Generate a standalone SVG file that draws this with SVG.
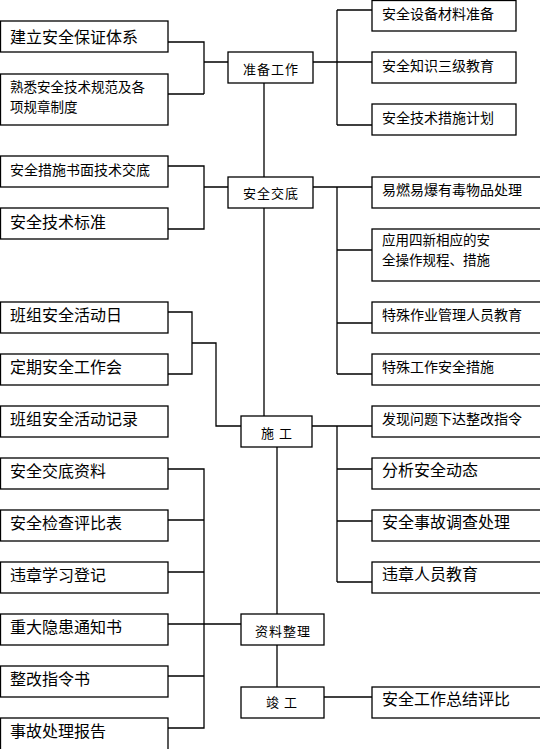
<svg xmlns="http://www.w3.org/2000/svg" width="540" height="749" viewBox="0 0 540 749">
<style>
rect{fill:#fff;stroke:#000;stroke-width:1.3}
.c{fill:none;stroke:#000;stroke-width:1.3}
text{font-family:"Noto Sans CJK SC","Liberation Sans",sans-serif;fill:#000}
.t16{font-size:16px}
.t14{font-size:14px}
.t2{font-size:13.5px}
.m{font-size:13px;text-anchor:middle;letter-spacing:1px}
</style>
<rect x="0" y="0" width="540" height="749" style="fill:#fff;stroke:none"/>
<g id="connectors">
<path class="c" d="M168,42H204V94M168,94H204M204,62H228"/>
<path class="c" d="M313,62H337M337,10V125M337,10H372M337,62H372M337,125H372"/>
<path class="c" d="M264,83V177M264,208V416"/>
<path class="c" d="M168,166H204V229H168M204,187H228"/>
<path class="c" d="M313,187H337V374M337,187H372M337,250H372M337,323H372M337,374H372"/>
<path class="c" d="M168,312H192V374H168M192,343H216V426H241"/>
<path class="c" d="M312,426H337V582M337,426H372M337,469H372M337,521H372M337,582H372"/>
<path class="c" d="M277,447V614M277,645V687"/>
<path class="c" d="M168,469H204V728H168M168,520H204M168,572H204M168,624H241M168,676H204"/>
<path class="c" d="M324,697H372"/>
</g>
<g id="n-zhunbei"><rect x="228" y="52" width="85" height="31"/><text class="m" x="271" y="74">准备工作</text></g>
<g id="n-jiaodi"><rect x="228" y="177" width="85" height="31"/><text class="m" x="271" y="198">安全交底</text></g>
<g id="n-shigong"><rect x="241" y="416" width="71" height="31"/><text class="m" x="277" y="438">施 工</text></g>
<g id="n-ziliao"><rect x="241" y="614" width="83" height="31"/><text class="m" x="283" y="636">资料整理</text></g>
<g id="n-jungong"><rect x="241" y="687" width="83" height="31"/><text class="m" x="282" y="707">竣 工</text></g>

<g id="l1"><rect x="0.5" y="21" width="167.5" height="31"/><text class="t16" x="10" y="43">建立安全保证体系</text></g>
<g id="l2"><rect x="0.5" y="74" width="167.5" height="51"/><text class="t2" x="10" y="92">熟悉安全技术规范及各</text><text class="t2" x="10" y="112">项规章制度</text></g>
<g id="l3"><rect x="0.5" y="156" width="167.5" height="31"/><text class="t14" x="10" y="175">安全措施书面技术交底</text></g>
<g id="l4"><rect x="0.5" y="208" width="167.5" height="31"/><text class="t16" x="10" y="228">安全技术标准</text></g>
<g id="l5"><rect x="0.5" y="302" width="167.5" height="31"/><text class="t16" x="10" y="321">班组安全活动日</text></g>
<g id="l6"><rect x="0.5" y="354" width="167.5" height="31"/><text class="t16" x="10" y="373">定期安全工作会</text></g>
<g id="l7"><rect x="0.5" y="406" width="167.5" height="31"/><text class="t16" x="10" y="425">班组安全活动记录</text></g>
<g id="l8"><rect x="0.5" y="458" width="167.5" height="31"/><text class="t16" x="10" y="477">安全交底资料</text></g>
<g id="l9"><rect x="0.5" y="510" width="167.5" height="31"/><text class="t16" x="10" y="529">安全检查评比表</text></g>
<g id="l10"><rect x="0.5" y="562" width="167.5" height="31"/><text class="t16" x="10" y="581">违章学习登记</text></g>
<g id="l11"><rect x="0.5" y="614" width="167.5" height="31"/><text class="t16" x="10" y="633">重大隐患通知书</text></g>
<g id="l12"><rect x="0.5" y="666" width="167.5" height="31"/><text class="t16" x="10" y="685">整改指令书</text></g>
<g id="l13"><rect x="0.5" y="718" width="167.5" height="40"/><text class="t16" x="10" y="737">事故处理报告</text></g>

<g id="r1"><rect x="372" y="0.5" width="144" height="30.5"/><text class="t14" x="382" y="19">安全设备材料准备</text></g>
<g id="r2"><rect x="372" y="52" width="144" height="31"/><text class="t14" x="382" y="71">安全知识三级教育</text></g>
<g id="r3"><rect x="372" y="104" width="144" height="31"/><text class="t14" x="382" y="123">安全技术措施计划</text></g>
<g id="r4"><rect x="372" y="177" width="175" height="31"/><text class="t14" x="382" y="195">易燃易爆有毒物品处理</text></g>
<g id="r5"><rect x="372" y="229" width="175" height="52"/><text class="t2" x="382" y="245">应用四新相应的安</text><text class="t2" x="382" y="265">全操作规程、措施</text></g>
<g id="r6"><rect x="372" y="302" width="175" height="31"/><text class="t14" x="382" y="320">特殊作业管理人员教育</text></g>
<g id="r7"><rect x="372" y="354" width="175" height="31"/><text class="t14" x="382" y="372">特殊工作安全措施</text></g>
<g id="r8"><rect x="372" y="406" width="175" height="31"/><text class="t14" x="382" y="424">发现问题下达整改指令</text></g>
<g id="r9"><rect x="372" y="458" width="175" height="31"/><text class="t16" x="382" y="476">分析安全动态</text></g>
<g id="r10"><rect x="372" y="510" width="175" height="31"/><text class="t16" x="382" y="528">安全事故调查处理</text></g>
<g id="r11"><rect x="372" y="562" width="175" height="31"/><text class="t16" x="382" y="580">违章人员教育</text></g>
<g id="r12"><rect x="372" y="687" width="175" height="31"/><text class="t16" x="382" y="705">安全工作总结评比</text></g>
</svg>
